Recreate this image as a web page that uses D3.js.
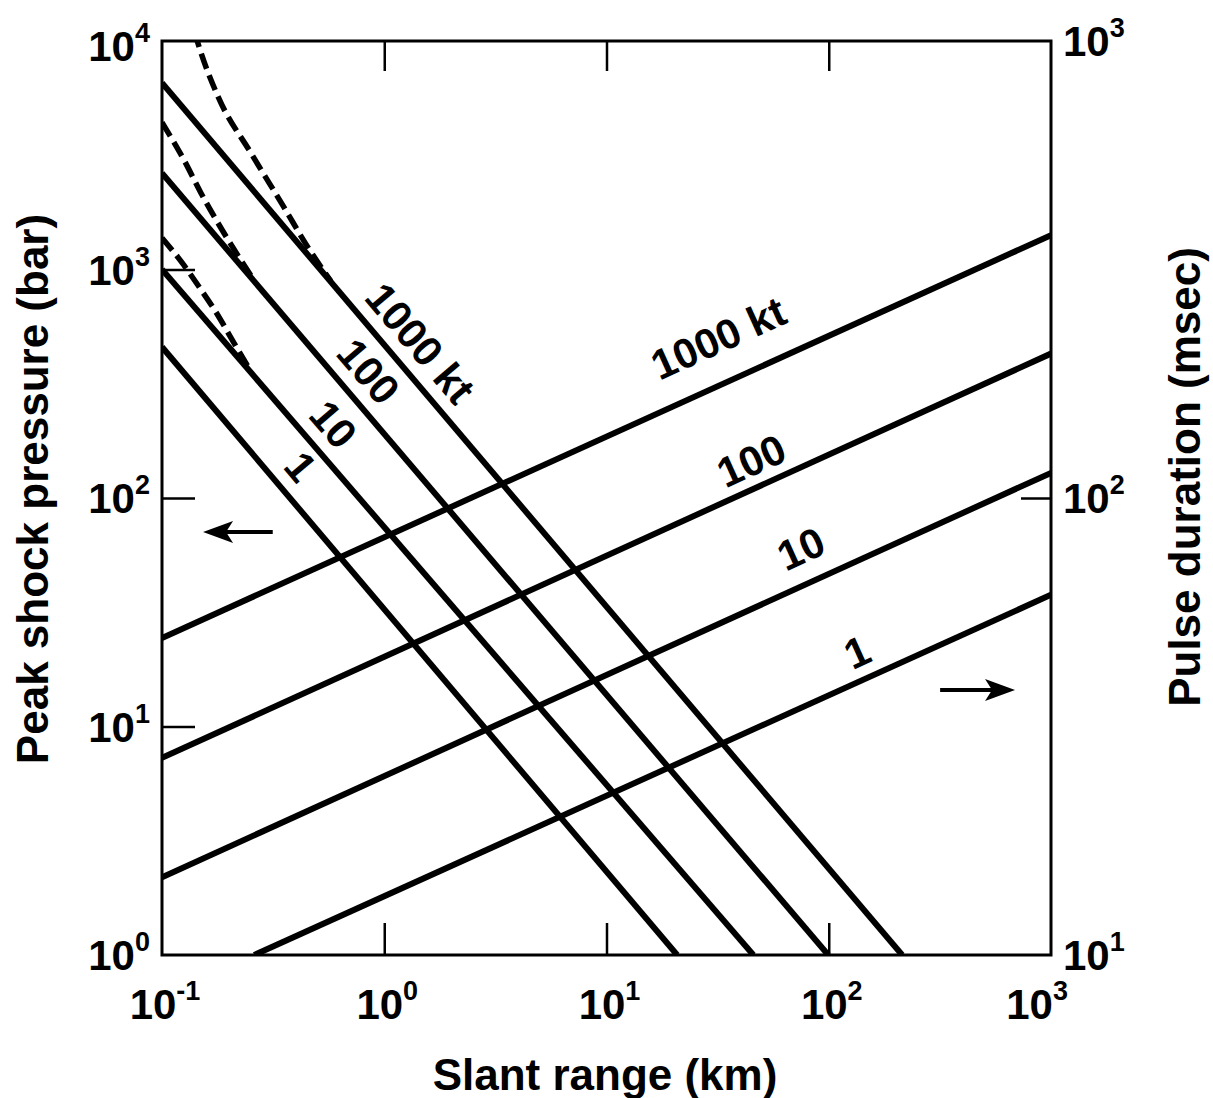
<!DOCTYPE html>
<html>
<head>
<meta charset="utf-8">
<script src="https://cdn.jsdelivr.net/npm/d3@7"></script>
<style>
  body { margin: 0; background: #fff; }
  svg { display: block; font-family: "Liberation Sans", Arial, Helvetica, sans-serif; font-weight: bold; }
</style>
</head>
<body>
<div id="chart"></div>
<script>
// yields, kt
const yieldLabels = ["1000 kt", "100", "10", "1"];

// peak shock pressure (bar) – straight solid lines, [range km, bar]
const pressure1000 = [[0.1, 6550], [214, 1]];
const pressure100 = [[0.1, 2640], [99.5, 1]];
const pressure10 = [[0.1, 1000], [45.8, 1]];
const pressure1 = [[0.1, 458], [20.8, 1]];

// near-field dashed curves, [range km, bar]
const nearField1000 = [[0.14, 11000], [0.145, 9800], [0.179, 5690], [0.251, 3240], [0.353, 1880], [0.453, 1253], [0.575, 890]];
const nearField100 = [[0.1, 4400], [0.1256, 3013], [0.1497, 2163], [0.19, 1445], [0.226, 1101], [0.256, 915]];
const nearField10 = [[0.1, 1375], [0.125, 1050], [0.147, 838], [0.175, 650], [0.21, 480], [0.25, 360]];

// pulse duration (msec), [range km, msec]
const pulse1000 = [[0.1, 49.4], [1000, 376]];
const pulse100 = [[0.1, 27], [1000, 207]];
const pulse10 = [[0.1, 14.8], [1000, 113.5]];
const pulse1 = [[0.26, 10], [1000, 61.4]];

// where the curve labels sit (range km along the line)
const pressureLabelAt = [1.16, 0.678, 0.472, 0.336];
const pulseLabelAt = [38.4, 50.2, 87, 151];

const xTicks = [0.1, 1, 10, 100, 1000];
const xExp = ["-1", "0", "1", "2", "3"];
const leftTicks = [1, 10, 100, 1000, 10000];
const leftExp = ["0", "1", "2", "3", "4"];
const rightTicks = [10, 100, 1000];
const rightExp = ["1", "2", "3"];

const width = 1213, height = 1098;
const x0 = 162, x1 = 1051, y0 = 41, y1 = 955;

const x = d3.scaleLog().domain([0.1, 1000]).range([x0, x1]);
const yL = d3.scaleLog().domain([1, 1e4]).range([y1, y0]);
const yR = d3.scaleLog().domain([10, 1000]).range([y1, y0]);

const svg = d3.select("#chart").append("svg")
  .attr("width", width)
  .attr("height", height);

svg.append("rect").attr("width", width).attr("height", height).attr("fill", "#fff");

svg.append("defs").append("clipPath").attr("id", "plot")
  .append("rect").attr("x", x0).attr("y", y0).attr("width", x1 - x0).attr("height", y1 - y0);

// inner ticks
const tickStyle = g => {
  g.select(".domain").remove();
  g.selectAll(".tick line").attr("stroke", "#000").attr("stroke-width", 2.5);
  g.selectAll(".tick text").remove();
};
svg.append("g").attr("transform", `translate(0,${y1})`)
  .call(d3.axisBottom(x).tickValues([1, 10, 100]).tickSize(-32).tickFormat(""))
  .call(tickStyle);
svg.append("g").attr("transform", `translate(0,${y0})`)
  .call(d3.axisTop(x).tickValues([1, 10, 100]).tickSize(-30).tickFormat(""))
  .call(tickStyle);
svg.append("g").attr("transform", `translate(${x0},0)`)
  .call(d3.axisLeft(yL).tickValues([10, 100, 1000]).tickSize(-33).tickFormat(""))
  .call(tickStyle);
svg.append("g").attr("transform", `translate(${x1},0)`)
  .call(d3.axisRight(yR).tickValues([100]).tickSize(-30).tickFormat(""))
  .call(tickStyle);

// curves
const plot = svg.append("g").attr("clip-path", "url(#plot)");
const lineL = d3.line().x(d => x(d[0])).y(d => yL(d[1])).curve(d3.curveMonotoneX);
const lineR = d3.line().x(d => x(d[0])).y(d => yR(d[1]));

[nearField1000, nearField100, nearField10].forEach(pts => {
  plot.append("path").attr("d", lineL(pts))
    .attr("fill", "none").attr("stroke", "#000")
    .attr("stroke-width", 5.5).attr("stroke-dasharray", "16 7");
});

const pressureLines = [pressure1000, pressure100, pressure10, pressure1];
const pulseLines = [pulse1000, pulse100, pulse10, pulse1];

pressureLines.forEach(pts => {
  plot.append("path").attr("d", lineL(pts))
    .attr("fill", "none").attr("stroke", "#000").attr("stroke-width", 6);
});
pulseLines.forEach(pts => {
  plot.append("path").attr("d", lineR(pts))
    .attr("fill", "none").attr("stroke", "#000").attr("stroke-width", 6);
});

// frame
svg.append("rect")
  .attr("x", x0).attr("y", y0).attr("width", x1 - x0).attr("height", y1 - y0)
  .attr("fill", "none").attr("stroke", "#000").attr("stroke-width", 3);

// labels along lines
function lineLabel(text, pts, scale, km, offset) {
  const ax = x(pts[0][0]), ay = scale(pts[0][1]);
  const bx = x(pts[1][0]), by = scale(pts[1][1]);
  const len = Math.hypot(bx - ax, by - ay);
  const dx = (bx - ax) / len, dy = (by - ay) / len;
  const px = x(km);
  const py = ay + (px - ax) * (by - ay) / (bx - ax);
  const cx = px + dy * offset, cy = py - dx * offset;
  const angle = Math.atan2(dy, dx) * 180 / Math.PI;
  svg.append("text")
    .attr("transform", `translate(${cx},${cy}) rotate(${angle})`)
    .attr("text-anchor", "middle")
    .attr("dy", "0.36em")
    .style("font-size", "42px")
    .text(text);
}
pressureLines.forEach((pts, i) => lineLabel(yieldLabels[i], pts, yL, pressureLabelAt[i], 29));
const pulseOffsets = [44, 27, 35, 28];
pulseLines.forEach((pts, i) => lineLabel(yieldLabels[i], pts, yR, pulseLabelAt[i], pulseOffsets[i]));

// tick labels with superscripts
function powerLabel(g, exp, xPos, yPos, anchor) {
  const t = g.append("text").attr("x", xPos).attr("y", yPos)
    .attr("text-anchor", anchor).style("font-size", "42px");
  t.append("tspan").text("10");
  t.append("tspan").attr("dy", -19).style("font-size", "27px").text(exp);
}
const labels = svg.append("g");
xTicks.forEach((v, i) => {
  const last = i === xTicks.length - 1;
  powerLabel(labels, xExp[i], last ? x(v) + 17 : x(v) + 3, 1019, last ? "end" : "middle");
});
leftTicks.forEach((v, i) => powerLabel(labels, leftExp[i], 150, Math.max(yL(v) + 15, 61), "end"));
rightTicks.forEach((v, i) => powerLabel(labels, rightExp[i], 1063, yR(v) + 15, "start"));

// axis titles
svg.append("text")
  .attr("x", 605).attr("y", 1090)
  .attr("text-anchor", "middle")
  .style("font-size", "44px")
  .text("Slant range (km)");

svg.append("text")
  .attr("transform", "translate(48,489) rotate(-90)")
  .attr("text-anchor", "middle")
  .style("font-size", "44px")
  .text("Peak shock pressure (bar)");

svg.append("text")
  .attr("transform", "translate(1200,477) rotate(-90)")
  .attr("text-anchor", "middle")
  .style("font-size", "44px")
  .text("Pulse duration (msec)");

// arrows pointing to each axis
function arrow(xa, xb, yPos, dir) {
  const tip = dir < 0 ? xa : xb;
  const tail = dir < 0 ? xb : xa;
  svg.append("line")
    .attr("x1", tail).attr("x2", tip - dir * 20)
    .attr("y1", yPos).attr("y2", yPos)
    .attr("stroke", "#000").attr("stroke-width", 4);
  const h = 30, w = 11;
  svg.append("path")
    .attr("d", `M${tip},${yPos} L${tip - dir * h},${yPos - w} L${tip - dir * (h - 7)},${yPos} L${tip - dir * h},${yPos + w} Z`)
    .attr("fill", "#000");
}
arrow(x(0.153), x(0.315), yL(71), -1);
arrow(x(317), x(689), yR(38), 1);
</script>
</body>
</html>
